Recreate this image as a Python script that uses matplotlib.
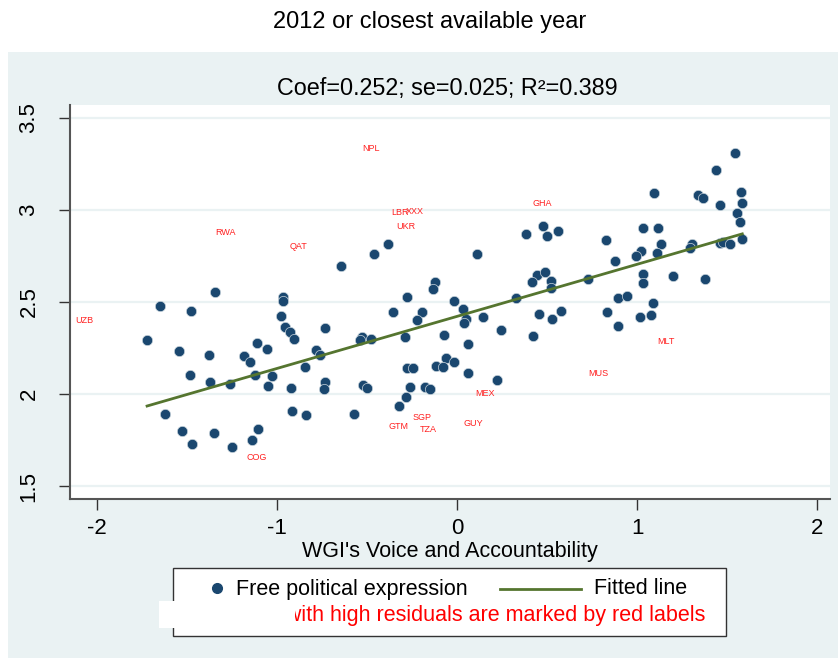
import matplotlib
matplotlib.use("Agg")
import matplotlib.pyplot as plt
from matplotlib.patches import Rectangle
from matplotlib.lines import Line2D

# WGI voice & accountability vs free political expression
wgi = [-1.722, -1.650, -1.478, -1.344, -0.967, -0.967, -0.978, -0.956, -0.928, -0.906,
       -1.111, -1.056, -1.544, -1.378, -1.183, -1.150, -0.783, -0.761, -0.844, -1.483,
       -1.122, -1.028, -1.372, -1.261, -1.050, -0.922, -0.733, -0.739, -1.622, -0.917,
       -0.839, -1.528, -1.350, -1.106, -1.472, -1.139, -1.250, -0.644, -0.461, -0.383,
       0.111, 0.383, 0.478, 0.500, 0.561, 0.444, 0.489, 0.417, 0.522, 0.522,
       -0.122, -0.133, -0.278, -0.017, 0.328, 0.033, -0.356, -0.194, -0.222, 0.456,
       0.528, 0.578, 0.144, 0.050, 0.039, -0.733, 0.244, 0.422, -0.528, -0.539,
       -0.478, -0.289, -0.072, 0.061, -0.061, -0.117, -0.078, -0.017, -0.278, -0.244,
       0.061, -0.522, -0.500, 0.222, -0.261, -0.178, -0.150, -0.283, -0.322, -0.572,
       1.544, 1.439, 1.094, 1.578, 1.339, 1.367, 1.583, 1.461, 1.556, 1.572,
       1.033, 1.117, 0.828, 1.461, 1.478, 1.517, 1.583, 1.306, 1.294, 1.133,
       1.022, 0.994, 1.111, 0.878, 0.728, 1.033, 1.033, 1.200, 1.378, 0.894,
       0.944, 1.089, 0.833, 0.894, 1.017, 1.078]
expression = [2.293, 2.478, 2.451, 2.554, 2.527, 2.505, 2.424, 2.364, 2.337, 2.299,
              2.277, 2.245, 2.234, 2.212, 2.207, 2.174, 2.239, 2.212, 2.147, 2.103,
              2.103, 2.098, 2.065, 2.054, 2.043, 2.033, 2.065, 2.027, 1.891, 1.908,
              1.886, 1.799, 1.788, 1.810, 1.728, 1.750, 1.712, 2.696, 2.761, 2.815,
              2.761, 2.870, 2.913, 2.859, 2.886, 2.647, 2.663, 2.609, 2.614, 2.576,
              2.609, 2.571, 2.527, 2.505, 2.522, 2.462, 2.446, 2.446, 2.402, 2.435,
              2.408, 2.451, 2.418, 2.408, 2.386, 2.359, 2.348, 2.315, 2.310, 2.293,
              2.299, 2.310, 2.321, 2.272, 2.196, 2.152, 2.147, 2.174, 2.141, 2.141,
              2.114, 2.049, 2.033, 2.076, 2.038, 2.038, 2.027, 1.984, 1.935, 1.891,
              3.310, 3.217, 3.092, 3.098, 3.082, 3.065, 3.038, 3.027, 2.984, 2.935,
              2.902, 2.902, 2.837, 2.821, 2.826, 2.815, 2.842, 2.815, 2.793, 2.815,
              2.777, 2.750, 2.766, 2.723, 2.625, 2.652, 2.603, 2.641, 2.625, 2.522,
              2.533, 2.495, 2.446, 2.370, 2.418, 2.429]

# countries with high residuals (red labels)
outlier_codes = ["UZB", "COG", "RWA", "QAT", "NPL", "LBR", "XXX", "UKR",
                 "GHA", "MEX", "SGP", "TZA", "GTM", "GUY", "MLT", "MUS"]
outlier_x = [-2.072, -1.111, -1.289, -0.883, -0.478, -0.317, -0.233, -0.283,
             0.472, 0.156, -0.194, -0.161, -0.328, 0.089, 1.161, 0.783]
outlier_y = [2.402, 1.658, 2.875, 2.804, 3.332, 2.984, 2.989, 2.908,
             3.033, 2.005, 1.870, 1.810, 1.826, 1.842, 2.288, 2.114]

fit_x = [-1.722, 1.583]
fit_y = [1.935, 2.870]

xticks = [-2, -1, 0, 1, 2]
yticks = [1.5, 2, 2.5, 3, 3.5]
ytick_labels = ["1.5", "2", "2.5", "3", "3.5"]

title = "2012 or closest available year"
subtitle = "Coef=0.252; se=0.025; R\u00b2=0.389"

navy = "#1a476f"
green = "#55752f"
bg = "#eaf2f3"

plt.rcParams['font.family'] = ['Liberation Sans', 'DejaVu Sans']

fig = plt.figure(figsize=(8.38, 6.58), dpi=100)
W, H = 838.0, 658.0
fig.patches.append(Rectangle((8 / W, 0), 1 - 8 / W, 1 - 52 / H, transform=fig.transFigure,
                             facecolor=bg, edgecolor="none", zorder=-10))

fig.text(430 / W, 1 - 22 / H, title, ha="center", va="center", fontsize=17)
fig.text(447 / W, 1 - 88 / H, subtitle, ha="center", va="center", fontsize=16.8)

ax = fig.add_axes([70 / W, 1 - 499 / H, 760 / W, 394 / H])
ax.set_facecolor("white")
ax.scatter(wgi, expression, s=55, color=navy, edgecolors="#c8d4dc", linewidths=0.5, zorder=3)
ax.plot(fit_x, fit_y, color=green, lw=2, zorder=4)
for code, x, y in zip(outlier_codes, outlier_x, outlier_y):
    ax.text(x, y, code, color="#ff2020", fontsize=6.5, ha="center", va="center", zorder=5)

ax.set_xlim(-2.15, 2.07)
ax.set_ylim(1.43, 3.57)
ax.set_xticks(xticks)
ax.set_xticklabels([str(t) for t in xticks], fontsize=16)
ax.set_yticks(yticks)
ax.set_yticklabels(ytick_labels, fontsize=16, rotation=90, va="center")
ax.tick_params(direction="out", length=8, width=1, color="#333333")
ax.tick_params(axis="y", pad=14)
ax.tick_params(axis="x", pad=6)
for y in yticks:
    ax.axhline(y, color=bg, lw=1.6, zorder=1)
for side in ["top", "right"]:
    ax.spines[side].set_visible(False)
for side in ["left", "bottom"]:
    ax.spines[side].set_color("#555555")
    ax.spines[side].set_linewidth(1.5)
ax.set_xlabel("WGI's Voice and Accountability", fontsize=15.5, labelpad=1)

# legend box
fig.patches.append(Rectangle((173 / W, 1 - 636 / H), 553 / W, 68 / H, transform=fig.transFigure,
                             facecolor="white", edgecolor="#333333", lw=1, zorder=1))
fig.lines.append(Line2D([217 / W], [1 - 588 / H], transform=fig.transFigure, marker="o",
                        markersize=7, color=navy, lw=0))
fig.text(236 / W, 1 - 589 / H, "Free political expression", fontsize=15.5, va="center")
fig.lines.append(Line2D([500 / W, 581 / W], [1 - 589 / H] * 2, transform=fig.transFigure,
                        color=green, lw=2))
fig.text(594 / W, 1 - 589 / H, "Fitted line", fontsize=15.5, va="center")
fig.text(705 / W, 1 - 615 / H, "Countries with high residuals are marked by red labels",
         fontsize=15.5, va="center", ha="right", color="#ff0000")
# white patch hiding the start of the note
fig.patches.append(Rectangle((159 / W, 1 - 628 / H), 136 / W, 27 / H, transform=fig.transFigure,
                             facecolor="white", edgecolor="none", zorder=10))

fig.savefig("out.png", dpi=100)
